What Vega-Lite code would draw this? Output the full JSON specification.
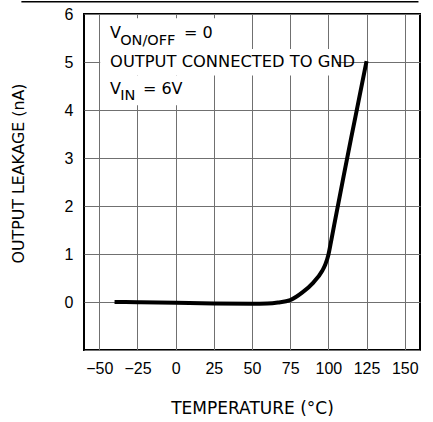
{
  "$schema": "https://vega.github.io/schema/vega-lite/v6.json",
  "autosize": {"type": "none"},
  "width": 336,
  "height": 336,
  "padding": {"left": 84, "top": 14, "right": 13, "bottom": 72},
  "background": "white",
  "config": {
    "view": {"stroke": "black", "strokeWidth": 2},
    "font": "DejaVu Sans",
    "text": {"font": "DejaVu Sans", "fontWeight": "normal"},
    "axis": {
      "domain": false,
      "ticks": false,
      "grid": true,
      "gridColor": "#707070",
      "gridWidth": 1,
      "labelFlush": false,
      "labelFont": "Liberation Sans",
      "labelFontSize": 16,
      "labelColor": "black",
      "titleFont": "DejaVu Sans",
      "titleFontWeight": "normal",
      "titleColor": "black"
    },
    "axisX": {"titleFontSize": 17},
    "axisY": {"titleFontSize": 15.8}
  },
  "datasets": {
    "curve": [
      {"temp": -40, "leak": 0.0},
      {"temp": -25, "leak": -0.005},
      {"temp": 0, "leak": -0.015},
      {"temp": 25, "leak": -0.03},
      {"temp": 50, "leak": -0.035},
      {"temp": 60, "leak": -0.03},
      {"temp": 67, "leak": -0.01},
      {"temp": 75, "leak": 0.04},
      {"temp": 83, "leak": 0.2},
      {"temp": 90, "leak": 0.4},
      {"temp": 96, "leak": 0.65},
      {"temp": 98, "leak": 0.78},
      {"temp": 100, "leak": 0.98},
      {"temp": 102, "leak": 1.3},
      {"temp": 105, "leak": 1.8},
      {"temp": 110, "leak": 2.62},
      {"temp": 115, "leak": 3.43},
      {"temp": 120, "leak": 4.22},
      {"temp": 125, "leak": 5.02}
    ],
    "one": [{}]
  },
  "data": {"name": "one"},
  "layer": [
    {
      "mark": {"type": "rect", "fill": "white", "strokeWidth": 0},
      "encoding": {
        "x": {"datum": -49.4, "type": "quantitative", "scale": {"domain": [-50, 150]}, "axis": {"values": [-50, -25, 0, 25, 50, 75, 100, 125, 150], "title": "TEMPERATURE (°C)", "labelPadding": 10, "titlePadding": 24}},
        "x2": {"datum": 40},
        "y": {"datum": 5.91, "type": "quantitative", "scale": {"domain": [-1, 6]}, "axis": {"values": [-1, 0, 1, 2, 3, 4, 5, 6], "labelExpr": "datum.value < 0 ? '' : datum.label", "title": "OUTPUT LEAKAGE (nA)", "labelPadding": 11, "titlePadding": 38, "titleY": 159}},
        "y2": {"datum": 5.27}
      }
    },
    {
      "mark": {"type": "rect", "fill": "white", "strokeWidth": 0},
      "encoding": {
        "x": {"datum": -49.4, "type": "quantitative"},
        "x2": {"datum": 105},
        "y": {"datum": 5.27, "type": "quantitative"},
        "y2": {"datum": 4.72}
      }
    },
    {
      "mark": {"type": "rect", "fill": "white", "strokeWidth": 0},
      "encoding": {
        "x": {"datum": -49.4, "type": "quantitative"},
        "x2": {"datum": 21},
        "y": {"datum": 4.72, "type": "quantitative"},
        "y2": {"datum": 4.1}
      }
    },
    {
      "mark": {"type": "rule", "color": "black", "strokeWidth": 1.5, "clip": false},
      "encoding": {
        "x": {"datum": -101, "type": "quantitative"},
        "x2": {"datum": 159},
        "y": {"datum": 6.255, "type": "quantitative"}
      }
    },
    {
      "data": {"name": "curve"},
      "mark": {"type": "line", "color": "black", "strokeWidth": 4, "interpolate": "monotone"},
      "encoding": {
        "x": {"field": "temp", "type": "quantitative"},
        "y": {"field": "leak", "type": "quantitative"}
      }
    },
    {
      "mark": {"type": "text", "align": "left", "baseline": "alphabetic", "fontSize": 16, "fill": "black"},
      "encoding": {"x": {"datum": -42.9, "type": "quantitative"}, "y": {"datum": 5.49, "type": "quantitative"}, "text": {"value": "V"}}
    },
    {
      "mark": {"type": "text", "align": "left", "baseline": "alphabetic", "fontSize": 14.5, "fill": "black"},
      "encoding": {"x": {"datum": -36.3, "type": "quantitative"}, "y": {"datum": 5.36, "type": "quantitative"}, "text": {"value": "ON/OFF"}}
    },
    {
      "mark": {"type": "text", "align": "left", "baseline": "alphabetic", "fontSize": 16, "fill": "black"},
      "encoding": {"x": {"datum": 5.4, "type": "quantitative"}, "y": {"datum": 5.49, "type": "quantitative"}, "text": {"value": "= 0"}}
    },
    {
      "mark": {"type": "text", "align": "left", "baseline": "alphabetic", "fontSize": 16.3, "fill": "black"},
      "encoding": {"x": {"datum": -42.9, "type": "quantitative"}, "y": {"datum": 4.89, "type": "quantitative"}, "text": {"value": "OUTPUT CONNECTED TO GND"}}
    },
    {
      "mark": {"type": "text", "align": "left", "baseline": "alphabetic", "fontSize": 16, "fill": "black"},
      "encoding": {"x": {"datum": -42.9, "type": "quantitative"}, "y": {"datum": 4.33, "type": "quantitative"}, "text": {"value": "V"}}
    },
    {
      "mark": {"type": "text", "align": "left", "baseline": "alphabetic", "fontSize": 14.5, "fill": "black"},
      "encoding": {"x": {"datum": -36.3, "type": "quantitative"}, "y": {"datum": 4.2, "type": "quantitative"}, "text": {"value": "IN"}}
    },
    {
      "mark": {"type": "text", "align": "left", "baseline": "alphabetic", "fontSize": 16, "fill": "black"},
      "encoding": {"x": {"datum": -21.4, "type": "quantitative"}, "y": {"datum": 4.33, "type": "quantitative"}, "text": {"value": "= 6V"}}
    }
  ]
}
